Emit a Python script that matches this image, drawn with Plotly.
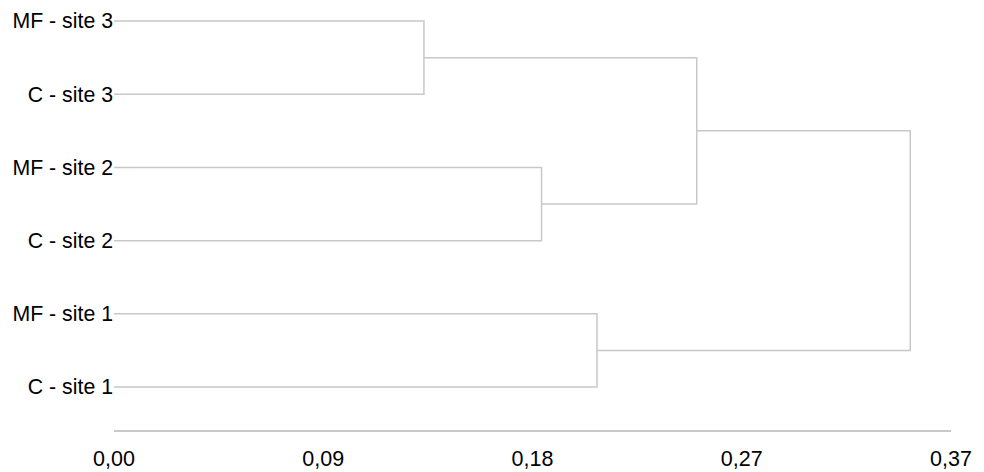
import plotly.graph_objects as go

# Leaves (top to bottom)
leaf_labels = ["MF - site 3", "C - site 3", "MF - site 2", "C - site 2", "MF - site 1", "C - site 1"]
leaf_y = [6, 5, 4, 3, 2, 1]

# Linkage: (child_a, child_b, distance); new clusters get ids 6, 7, 8, ...
merge_a = [0, 2, 4, 6, 9]
merge_b = [1, 3, 5, 7, 8]
merge_dist = [0.137, 0.189, 0.2135, 0.2576, 0.352]

# Axis ticks
tick_vals = [0, 0.0925, 0.185, 0.2775, 0.37]
tick_text = ["0,00", "0,09", "0,18", "0,27", "0,37"]

LINE = "#c8c8c8"
FONT = "Liberation Sans, Arial, sans-serif"

nodes = [(0.0, y) for y in leaf_y]
xs, ys = [], []
for a, b, h in zip(merge_a, merge_b, merge_dist):
    xa, ya = nodes[a]
    xb, yb = nodes[b]
    xs += [xa, h, h, xb, None]
    ys += [ya, ya, yb, yb, None]
    nodes.append((h, (ya + yb) / 2))

fig = go.Figure()
fig.add_trace(go.Scatter(x=xs, y=ys, mode="lines",
                         line=dict(color=LINE, width=1.5),
                         hoverinfo="skip", showlegend=False))

# page body has an 8px margin, so the figure is sized/offset accordingly
fig.update_layout(
    width=976, height=464,
    margin=dict(l=106, r=33, t=0, b=42),
    paper_bgcolor="white", plot_bgcolor="white",
    font=dict(family=FONT, size=21, color="black"),
    showlegend=False,
)
fig.update_xaxes(
    range=[0, 0.37], tickvals=tick_vals, ticktext=tick_text,
    showgrid=False, zeroline=False, showline=True, linecolor=LINE, linewidth=1.5,
    ticks="outside", ticklen=8, tickcolor="rgba(0,0,0,0)",
    tickfont=dict(size=21.5), automargin=False,
)
fig.update_yaxes(
    range=[0.413, 6.178], tickvals=leaf_y, ticktext=leaf_labels,
    showgrid=False, zeroline=False, showline=False, ticks="",
    tickfont=dict(size=21.3), automargin=False,
)

fig.write_html("out.html")
